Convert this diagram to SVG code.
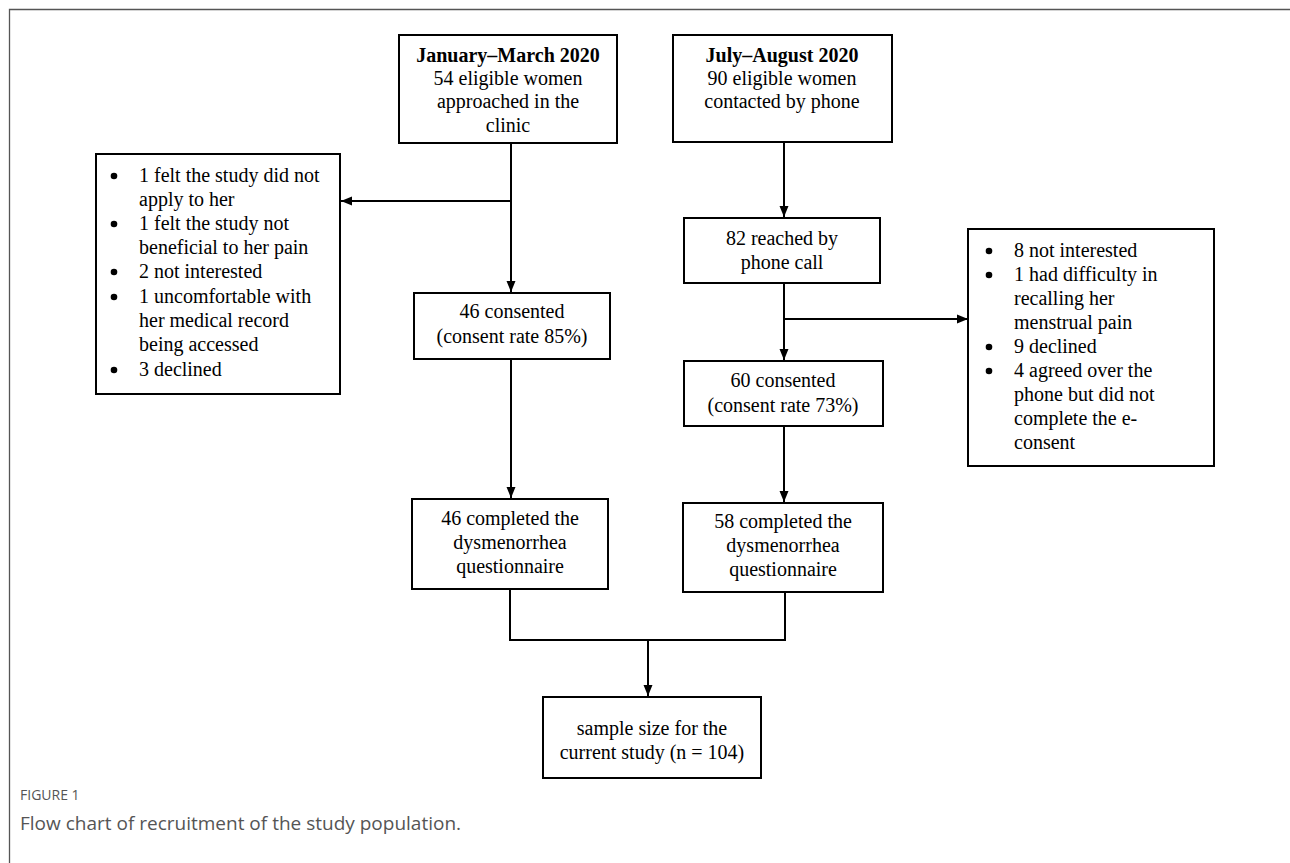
<svg xmlns="http://www.w3.org/2000/svg" width="1290" height="863" viewBox="0 0 1290 863">
<defs>
<style>
.box{fill:#fff;stroke:#000;stroke-width:2}
.t{font-family:"Liberation Serif","Times New Roman",serif;font-size:20px;fill:#000}
.c{text-anchor:middle}
.b{font-weight:bold}
.ln{fill:none;stroke:#000;stroke-width:2}
.dot{fill:#000}
.frame{fill:none;stroke:#555;stroke-width:1.3}
.cap{font-family:"Open Sans","Noto Sans",sans-serif;fill:#555}
</style>
<marker id="ah" markerUnits="userSpaceOnUse" markerWidth="12" markerHeight="12" viewBox="0 0 12 12" refX="11" refY="6" orient="auto">
<path d="M0,1.5 L11,6 L0,10.5 Z" fill="#000"/>
</marker>
</defs>
<rect width="1290" height="863" fill="#fff"/>
<path class="frame" d="M9.5,863 V9.5 H1290"/>

<g id="connectors">
<path class="ln" d="M511,143 V292" marker-end="url(#ah)"/>
<path class="ln" d="M511,201 H341" marker-end="url(#ah)"/>
<path class="ln" d="M784,142 V217" marker-end="url(#ah)"/>
<path class="ln" d="M784,283 V360" marker-end="url(#ah)"/>
<path class="ln" d="M784,319 H968" marker-end="url(#ah)"/>
<path class="ln" d="M511,359 V498" marker-end="url(#ah)"/>
<path class="ln" d="M784,426 V502" marker-end="url(#ah)"/>
<path class="ln" d="M510,589 V640 H785 V592"/>
<path class="ln" d="M648,640 V696" marker-end="url(#ah)"/>
</g>

<g id="n-jan">
<rect class="box" x="399" y="35" width="218" height="108"/>
<text class="t c b" x="508" y="62">January–March 2020</text>
<text class="t c" x="508" y="85">54 eligible women</text>
<text class="t c" x="508" y="108">approached in the</text>
<text class="t c" x="508" y="132">clinic</text>
</g>

<g id="n-jul">
<rect class="box" x="673" y="35" width="219" height="107"/>
<text class="t c b" x="782" y="62">July–August 2020</text>
<text class="t c" x="782" y="85">90 eligible women</text>
<text class="t c" x="782" y="108">contacted by phone</text>
</g>

<g id="n-excl-left">
<rect class="box" x="96" y="154" width="244" height="240"/>
<circle class="dot" cx="114" cy="176" r="3.3"/>
<circle class="dot" cx="114" cy="224" r="3.3"/>
<circle class="dot" cx="114" cy="272" r="3.3"/>
<circle class="dot" cx="114" cy="297" r="3.3"/>
<circle class="dot" cx="114" cy="370" r="3.3"/>
<text class="t" x="139" y="182">1 felt the study did not</text>
<text class="t" x="139" y="206">apply to her</text>
<text class="t" x="139" y="230">1 felt the study not</text>
<text class="t" x="139" y="254">beneficial to her pain</text>
<text class="t" x="139" y="278">2 not interested</text>
<text class="t" x="139" y="303">1 uncomfortable with</text>
<text class="t" x="139" y="327">her medical record</text>
<text class="t" x="139" y="351">being accessed</text>
<text class="t" x="139" y="376">3 declined</text>
</g>

<g id="n-82">
<rect class="box" x="684" y="218" width="196" height="65"/>
<text class="t c" x="782" y="245">82 reached by</text>
<text class="t c" x="782" y="269">phone call</text>
</g>

<g id="n-excl-right">
<rect class="box" x="968" y="229" width="246" height="237"/>
<circle class="dot" cx="989" cy="251" r="3.3"/>
<circle class="dot" cx="989" cy="275" r="3.3"/>
<circle class="dot" cx="989" cy="347" r="3.3"/>
<circle class="dot" cx="989" cy="371" r="3.3"/>
<text class="t" x="1014" y="257">8 not interested</text>
<text class="t" x="1014" y="281">1 had difficulty in</text>
<text class="t" x="1014" y="305">recalling her</text>
<text class="t" x="1014" y="329">menstrual pain</text>
<text class="t" x="1014" y="353">9 declined</text>
<text class="t" x="1014" y="377">4 agreed over the</text>
<text class="t" x="1014" y="401">phone but did not</text>
<text class="t" x="1014" y="425">complete the e-</text>
<text class="t" x="1014" y="449">consent</text>
</g>

<g id="n-46c">
<rect class="box" x="414" y="293" width="196" height="66"/>
<text class="t c" x="512" y="318">46 consented</text>
<text class="t c" x="512" y="343">(consent rate 85%)</text>
</g>

<g id="n-60c">
<rect class="box" x="684" y="361" width="199" height="65"/>
<text class="t c" x="783" y="387">60 consented</text>
<text class="t c" x="783" y="412">(consent rate 73%)</text>
</g>

<g id="n-46q">
<rect class="box" x="412" y="499" width="196" height="90"/>
<text class="t c" x="510" y="525">46 completed the</text>
<text class="t c" x="510" y="549">dysmenorrhea</text>
<text class="t c" x="510" y="573">questionnaire</text>
</g>

<g id="n-58q">
<rect class="box" x="683" y="503" width="200" height="89"/>
<text class="t c" x="783" y="528">58 completed the</text>
<text class="t c" x="783" y="552">dysmenorrhea</text>
<text class="t c" x="783" y="576">questionnaire</text>
</g>

<g id="n-sample">
<rect class="box" x="543" y="697" width="218" height="81"/>
<text class="t c" x="652" y="735">sample size for the</text>
<text class="t c" x="652" y="759">current study (n = 104)</text>
</g>

<g id="caption">
<text class="cap" x="20" y="800" font-size="14">FIGURE 1</text>
<text class="cap" x="20" y="830" font-size="19">Flow chart of recruitment of the study population.</text>
</g>
</svg>
